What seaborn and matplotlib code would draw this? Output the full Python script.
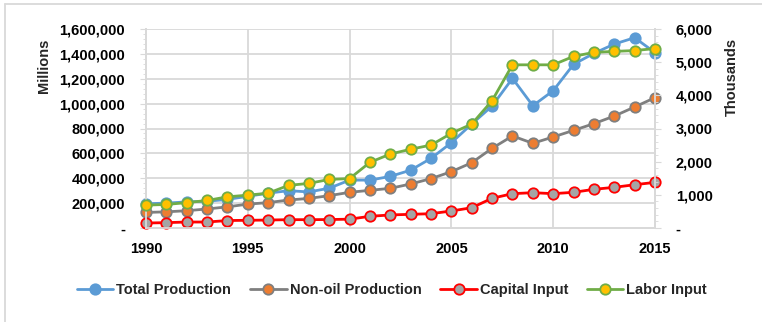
import matplotlib
matplotlib.use("Agg")
import matplotlib.pyplot as plt
from matplotlib import font_manager
from matplotlib.lines import Line2D
from matplotlib.ticker import FuncFormatter, AutoMinorLocator
import numpy as np
import pandas as pd
import seaborn as sns

years = list(range(1990, 2016))
total_production = [195000, 200000, 210000, 215000, 230000, 255000, 280000, 300000, 290000, 320000,
                    385000, 385000, 415000, 465000, 560000, 686000, 836000, 981000, 1203000, 983000,
                    1104000, 1316000, 1404000, 1479000, 1530000, 1410000]
non_oil_production = [125000, 130000, 139000, 153000, 170000, 192000, 204000, 225000, 238000, 260000,
                      287000, 303000, 319000, 354000, 397000, 453000, 525000, 641000, 740000, 681000,
                      732000, 785000, 839000, 900000, 973000, 1048000]
capital_input = [40000, 43000, 48000, 48000, 60000, 62000, 64000, 67000, 67000, 68000,
                 71000, 94000, 105000, 110000, 115000, 137000, 163000, 239000, 276000, 284000,
                 276000, 287000, 311000, 327000, 348000, 367000]
labor_input = [690, 710, 765, 830, 940, 990, 1050, 1285, 1345, 1465,
               1490, 1980, 2230, 2375, 2500, 2855, 3135, 3840, 4920, 4920,
               4920, 5175, 5295, 5325, 5350, 5410]

left_ticks = [0, 200000, 400000, 600000, 800000, 1000000, 1200000, 1400000, 1600000]
right_ticks = [0, 1000, 2000, 3000, 4000, 5000, 6000]
x_ticks = [1990, 1995, 2000, 2005, 2010, 2015]

sns.set_style("white")
names = {f.name for f in font_manager.fontManager.ttflist}
fam = "Liberation Sans Narrow" if "Liberation Sans Narrow" in names else "Liberation Sans"
plt.rcParams["font.family"] = [fam, "DejaVu Sans"]
FS = 10.5

W, H = 762, 322
fig = plt.figure(figsize=(W / 100, H / 100), dpi=100)
ax = fig.add_axes([146 / W, 1 - 228 / H, (655 - 146) / W, (228 - 29) / H])
ax2 = ax.twinx()

df = pd.DataFrame({"Year": years, "Total": total_production, "NonOil": non_oil_production,
                   "Capital": capital_input, "Labor": labor_input})

styles = [
    ("Total", "Total Production", "#5B9BD5", "#5B9BD5", "#5B9BD5", ax),
    ("NonOil", "Non-oil Production", "#7F7F7F", "#ED7D31", "#7F7F7F", ax),
    ("Capital", "Capital Input", "#FF0000", "#A5A5A5", "#FF0000", ax),
    ("Labor", "Labor Input", "#70AD47", "#FFC000", "#70AD47", ax2),
]
handles = []
for col, label, lc, fc, ec, a in styles:
    sns.lineplot(data=df, x="Year", y=col, ax=a, color=lc, linewidth=2.0, marker="o",
                 markersize=7.5, markerfacecolor=fc, markeredgecolor=ec, markeredgewidth=1.3,
                 legend=False, zorder=3)
    handles.append(Line2D([0], [0], color=lc, linewidth=2.0, marker="o", markersize=7.5,
                          markerfacecolor=fc, markeredgecolor=ec, markeredgewidth=1.3, label=label))
for a in (ax, ax2):
    for ln in a.lines:
        ln.set_clip_on(False)

ax.set_xlim(1990, 2015)
ax.set_ylim(0, 1600000)
ax2.set_ylim(0, 6000)
ax.set_xticks(x_ticks)
ax.set_yticks(left_ticks)
ax2.set_yticks(right_ticks)

def fmt(v, pos):
    return "-" if v == 0 else f"{int(v):,}"

ax.yaxis.set_major_formatter(FuncFormatter(fmt))
ax2.yaxis.set_major_formatter(FuncFormatter(fmt))
ax.yaxis.set_minor_locator(AutoMinorLocator(5))
ax2.yaxis.set_minor_locator(AutoMinorLocator(5))

ax.set_xlabel("")
ax.set_ylabel("")
ax2.set_ylabel("")
ax.grid(True, axis="both", which="major", color="#D9D9D9", linewidth=1.3)
ax.set_axisbelow(True)
for a in (ax, ax2):
    a.spines["top"].set_visible(False)
    for s in ("left", "right", "bottom"):
        a.spines[s].set_color("#D9D9D9")
        a.spines[s].set_linewidth(1.3)
ax.tick_params(axis="y", which="major", length=4, color="#D9D9D9", pad=11, labelsize=FS)
ax.tick_params(axis="y", which="minor", length=2, color="#D9D9D9")
ax2.tick_params(axis="y", which="major", length=4, color="#D9D9D9", pad=11, labelsize=FS)
ax2.tick_params(axis="y", which="minor", length=2, color="#D9D9D9")
ax.tick_params(axis="x", length=0, pad=10, labelsize=FS)
for lab in ax.get_xticklabels() + ax.get_yticklabels() + ax2.get_yticklabels():
    lab.set_fontweight("bold")
    lab.set_color("#000000")

fig.text(44 / W, 1 - 66 / H, "Millions", rotation=90, ha="center", va="center",
         fontsize=FS, fontweight="bold")
fig.text(732 / W, 1 - 77 / H, "Thousands", rotation=90, ha="center", va="center",
         fontsize=FS, fontweight="bold")

leg = fig.legend(handles=handles, loc="center", bbox_to_anchor=(392 / W, 1 - 290 / H), ncol=4,
                 frameon=False, handlelength=2.5, handletextpad=0.2, columnspacing=1.3,
                 prop={"weight": "bold", "size": FS})

# outer chart border (light grey)
fig.add_artist(Line2D([5 / W, 5 / W], [0, 1 - 4 / H], transform=fig.transFigure,
                      color="#D9D9D9", linewidth=1.3))
fig.add_artist(Line2D([5 / W, 1], [1 - 4 / H, 1 - 4 / H], transform=fig.transFigure,
                      color="#D9D9D9", linewidth=1.3))

fig.savefig("out.png", dpi=100)
